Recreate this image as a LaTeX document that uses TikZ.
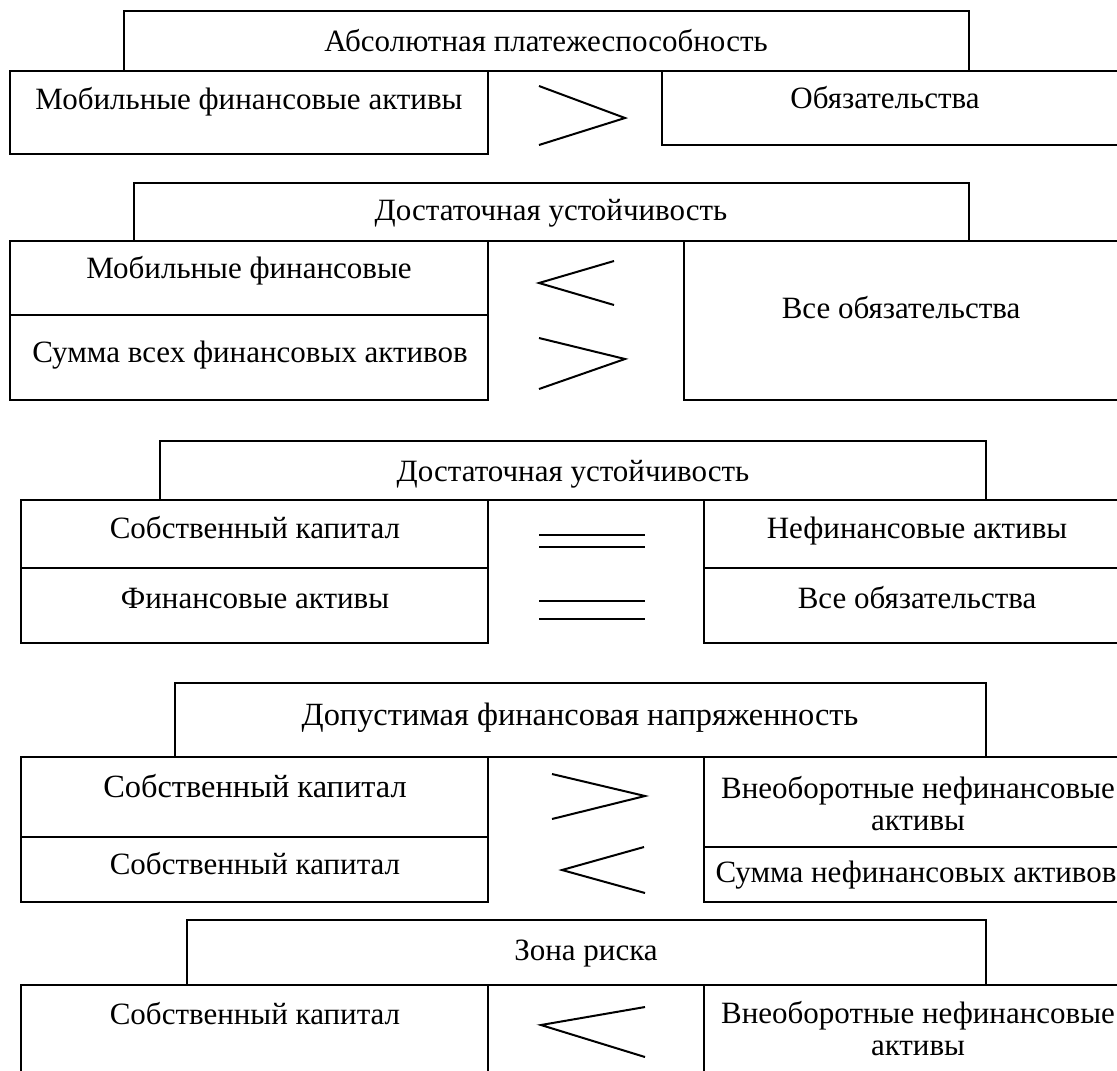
\documentclass[tikz,border=0pt]{standalone}
\usepackage{fontspec}
\setmainfont{Liberation Serif}
\tikzset{
  box/.style={line width=1.1pt},
  sign/.style={line width=1pt},
  txt/.style={anchor=base, inner sep=0pt, align=center, font=\fontsize{15.5}{16}\selectfont},
  bigtxt/.style={txt, font=\fontsize{16.2}{18}\selectfont}
}
\begin{document}
\begin{tikzpicture}[x=0.5pt,y=-0.5pt]
\useasboundingbox (0,0) rectangle (1117,1070);

\draw[box] (124,11) rectangle (969,71);
\draw[box] (10,71) rectangle (488,154);
\draw[box] (662,71) rectangle (1140,145);
\node[txt] (t1) at (546,52) {Абсолютная платежеспособность};
\node[txt] (l1) at (249,110) {Мобильные финансовые активы};
\node[txt] (r1) at (885,108) {Обязательства};
\draw[sign] (539,86) -- (625,118) -- (539,145);

\draw[box] (134,183) rectangle (969,241);
\draw[box] (10,241) rectangle (488,315);
\draw[box] (10,315) rectangle (488,400);
\draw[box] (684,241) rectangle (1140,400);
\node[txt] (t2) at (551,220) {Достаточная устойчивость};
\node[txt] (l2a) at (249,278) {Мобильные финансовые};
\node[txt] (l2b) at (250,362) {Сумма всех финансовых активов};
\node[txt] (r2) at (901,318) {Все обязательства};
\draw[sign] (614,261) -- (539,283) -- (614,305);
\draw[sign] (539,338) -- (625,359) -- (539,389);

\draw[box] (160,441) rectangle (986,500);
\draw[box] (21,500) rectangle (488,568);
\draw[box] (21,568) rectangle (488,643);
\draw[box] (704,500) rectangle (1140,568);
\draw[box] (704,568) rectangle (1140,643);
\node[txt] (t3) at (573,481) {Достаточная устойчивость};
\node[txt] (l3a) at (255,538) {Собственный капитал};
\node[txt] (l3b) at (255,608) {Финансовые активы};
\node[txt] (r3a) at (917,538) {Нефинансовые активы};
\node[txt] (r3b) at (917,608) {Все обязательства};
\draw[sign] (539,535) -- (645,535) (539,547) -- (645,547);
\draw[sign] (539,601) -- (645,601) (539,619) -- (645,619);

\draw[box] (175,683) rectangle (986,757);
\draw[box] (21,757) rectangle (488,837);
\draw[box] (21,837) rectangle (488,902);
\draw[box] (704,757) rectangle (1140,847);
\draw[box] (704,847) rectangle (1140,902);
\node[bigtxt] (t4) at (580,725) {Допустимая финансовая напряженность};
\node[bigtxt] (l4a) at (255,797) {Собственный капитал};
\node[txt] (l4b) at (255,874) {Собственный капитал};
\node[txt] (r4a) at (918,830) {Внеоборотные нефинансовые\\активы};
\node[txt] (r4b) at (916,882) {Сумма нефинансовых активов};
\draw[sign] (552,774) -- (645,796) -- (552,819);
\draw[sign] (644,847) -- (562,870) -- (645,893);

\draw[box] (187,920) rectangle (986,985);
\draw[box] (21,985) rectangle (488,1090);
\draw[box] (704,985) rectangle (1140,1090);
\node[txt] (t5) at (586,960) {Зона риска};
\node[txt] (l5) at (255,1024) {Собственный капитал};
\node[txt] (r5) at (918,1055) {Внеоборотные нефинансовые\\активы};
\draw[sign] (645,1007) -- (541,1025) -- (645,1057);
\end{tikzpicture}
\end{document}
